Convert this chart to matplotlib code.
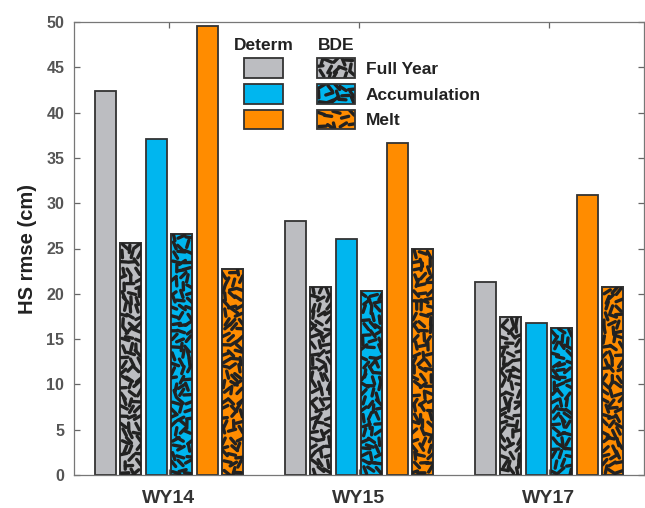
import numpy as np
import matplotlib
matplotlib.use('Agg')
import matplotlib.pyplot as plt
from matplotlib.collections import LineCollection
from matplotlib.patches import Rectangle

plt.rcParams['font.family'] = ['Liberation Sans', 'DejaVu Sans']
plt.rcParams['font.weight'] = 'bold'
plt.rcParams['axes.labelweight'] = 'bold'

# data
years = ['WY14', 'WY15', 'WY17']
determ_full = [42.4, 28.0, 21.3]
bde_full = [25.6, 20.8, 17.4]
determ_acc = [37.1, 26.0, 16.8]
bde_acc = [26.6, 20.3, 16.2]
determ_melt = [49.6, 36.6, 30.9]
bde_melt = [22.7, 24.9, 20.7]

series = [determ_full, bde_full, determ_acc, bde_acc, determ_melt, bde_melt]
colors = ['#bcbdc1', '#bcbdc1', '#00b6ef', '#00b6ef', '#ff8c00', '#ff8c00']
textured = [False, True, False, True, False, True]

W, H = 645, 508
EDGE = '#333333'


def frac_hash(k, s):
    return (np.sin(k * 12.9898 + s * 78.233) * 43758.5453) % 1


def dashes(fig, clip, x0, y0, x1, y1):
    # scattered short dashes (pixel box, origin bottom-left), clipped to a patch
    step = 7.8
    nx = max(1, int(round((x1 - x0) / step)))
    ny = max(1, int(round((y1 - y0) / step)))
    segs = []
    k = int(x0 * 13 + y1 * 3)
    for j in range(ny):
        for i in range(nx):
            k += 1
            u = 0.2 + 0.6 * frac_hash(k, 1)
            v = 0.2 + 0.6 * frac_hash(k, 2)
            a = frac_hash(k, 3) * np.pi
            cx = x0 + (i + u) * (x1 - x0) / nx
            cy = y0 + (j + v) * (y1 - y0) / ny
            dx = 3.7 * np.cos(a)
            dy = 3.7 * np.sin(a)
            segs.append([((cx - dx) / W, (cy - dy) / H), ((cx + dx) / W, (cy + dy) / H)])
    lc = LineCollection(segs, colors='#222222', linewidths=2.4, capstyle='round',
                        transform=fig.transFigure, zorder=3)
    lc.set_clip_path(clip)
    fig.add_artist(lc)


fig = plt.figure(figsize=(6.45, 5.08), dpi=100)
ax = fig.add_axes([74 / W, 1 - 475 / H, (644 - 74) / W, (475 - 22) / H])
ax.set_xlim(0.5, 3.5)
ax.set_ylim(0, 50)

x = np.arange(1, len(years) + 1)
pitch = 0.134
width = 0.11

for s, (vals, c, tex) in enumerate(zip(series, colors, textured)):
    pos = x + (s - 2.5) * pitch
    bars = ax.bar(pos, vals, width, color=c, edgecolor=EDGE, linewidth=1.3, zorder=2)
    if tex:
        for b in bars:
            (px0, py0) = ax.transData.transform((b.get_x(), 0))
            (px1, py1) = ax.transData.transform((b.get_x() + b.get_width(), b.get_height()))
            dashes(fig, b, px0, py0, px1, py1)
        ax.bar(pos, vals, width, color='none', edgecolor=EDGE, linewidth=1.3, zorder=4)

ax.set_xticks(x)
ax.set_xticklabels(years, fontsize=14, color='#333333', fontweight='bold')
ax.set_yticks(np.arange(0, 51, 5))
ax.set_yticklabels([str(v) for v in range(0, 51, 5)], fontsize=11.5,
                   color='#555555', fontweight='bold')
ax.tick_params(axis='y', pad=7)
ax.tick_params(axis='x', pad=11)
ax.tick_params(direction='in', top=True, right=True, length=4, color='#666666', width=0.9)
for sp in ax.spines.values():
    sp.set_color('#777777')
    sp.set_linewidth(0.9)
ax.set_ylabel('HS rmse (cm)', fontsize=14.5, color='#222222', labelpad=7, fontweight='bold')

# hand-made legend (pixel positions, y measured from top)
def fbox(px0, py0, px1, py1):
    return (px0 / W, 1 - py1 / H), (px1 - px0) / W, (py1 - py0) / H

fig.text(264 / W, 1 - 45 / H, 'Determ', ha='center', va='center', fontsize=12.5, color='#222222')
fig.text(336 / W, 1 - 45 / H, 'BDE', ha='center', va='center', fontsize=12.5, color='#222222')
rows = [(58, 78), (84, 104), (110, 129)]
names = ['Full Year', 'Accumulation', 'Melt']
for (t, b), c, name in zip(rows, ['#bcbdc1', '#00b6ef', '#ff8c00'], names):
    xy, w, h = fbox(244, t, 283, b)
    fig.add_artist(Rectangle(xy, w, h, transform=fig.transFigure, facecolor=c,
                             edgecolor=EDGE, linewidth=1.3))
    xy, w, h = fbox(317, t, 355, b)
    r = Rectangle(xy, w, h, transform=fig.transFigure, facecolor=c,
                  edgecolor='none', zorder=2)
    fig.add_artist(r)
    dashes(fig, r, 317, H - b, 355, H - t)
    fig.add_artist(Rectangle(xy, w, h, transform=fig.transFigure, facecolor='none',
                             edgecolor=EDGE, linewidth=1.3, zorder=4))
    fig.text(366 / W, 1 - ((t + b) / 2 + 1) / H, name, ha='left', va='center',
             fontsize=12.5, color='#222222')

fig.savefig('out.png', dpi=100)
